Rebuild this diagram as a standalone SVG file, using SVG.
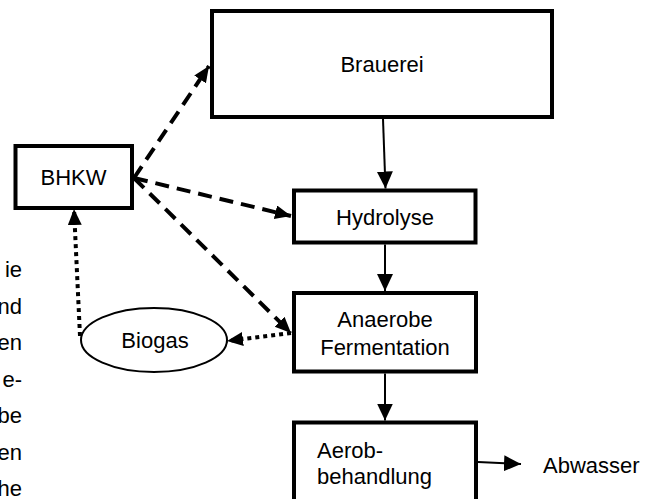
<svg xmlns="http://www.w3.org/2000/svg" width="658" height="499" viewBox="0 0 658 499">
<defs>
<style>
.box{fill:#fff;stroke:#000;stroke-width:4}
.t{font-family:"Liberation Sans",Arial,sans-serif;font-size:22px;fill:#000}
.c{text-anchor:middle}
.e{text-anchor:end}
.solid{stroke:#000;stroke-width:2;fill:none}
.dash{stroke:#000;stroke-width:4;stroke-dasharray:14 8;fill:none}
.dot{stroke:#000;stroke-width:4;stroke-dasharray:4 4;fill:none}
</style>
<marker id="ah" markerUnits="userSpaceOnUse" markerWidth="18" markerHeight="16" refX="17" refY="8" orient="auto" viewBox="0 0 18 16">
<path d="M0,0 L17,8 L0,16 z" fill="#000"/>
</marker>
<marker id="ahd" markerUnits="userSpaceOnUse" markerWidth="18" markerHeight="16" refX="16" refY="7" orient="auto" viewBox="0 0 18 16">
<path d="M0,0 L16,7 L0,14 z" fill="#000"/>
</marker>
</defs>
<rect width="658" height="499" fill="#fff"/>
<g id="sidetext" class="t e">
<text x="22" y="277">ie</text>
<text x="22" y="313.5">nd</text>
<text x="22" y="350">en</text>
<text x="22" y="386.5">e-</text>
<text x="22" y="423">be</text>
<text x="22" y="459.5">en</text>
<text x="22" y="496">he</text>
</g>
<g id="connectors">
<line class="solid" x1="383" y1="119" x2="385.5" y2="188.5" marker-end="url(#ah)"/>
<line class="solid" x1="385" y1="244.5" x2="385" y2="291" marker-end="url(#ah)"/>
<line class="solid" x1="385" y1="373.5" x2="385" y2="420.5" marker-end="url(#ah)"/>
<line class="solid" x1="478" y1="462" x2="521" y2="464" marker-end="url(#ah)"/>
<line class="dash" x1="134" y1="178" x2="209" y2="66" marker-end="url(#ahd)"/>
<line class="dash" x1="134" y1="178" x2="291" y2="216" marker-end="url(#ahd)"/>
<line class="dash" x1="134" y1="178" x2="291" y2="333" marker-end="url(#ahd)"/>
<line class="dot" x1="291" y1="333" x2="227" y2="341" marker-end="url(#ahd)"/>
<line class="dot" x1="80" y1="336" x2="74" y2="209" marker-end="url(#ahd)"/>
</g>
<g id="brauerei">
<rect class="box" x="212" y="11" width="340" height="106"/>
<text class="t c" x="382" y="72">Brauerei</text>
</g>
<g id="bhkw">
<rect class="box" x="15.5" y="146" width="116.5" height="62"/>
<text class="t c" x="73.5" y="185">BHKW</text>
</g>
<g id="hydrolyse">
<rect class="box" x="294" y="190.5" width="181.5" height="52"/>
<text class="t c" x="385" y="225">Hydrolyse</text>
</g>
<g id="anaerobe">
<rect class="box" x="294" y="293" width="182" height="78.5"/>
<text class="t c" x="385" y="327">Anaerobe</text>
<text class="t c" x="385" y="355">Fermentation</text>
</g>
<g id="aerob">
<rect class="box" x="294" y="422.5" width="182" height="90"/>
<text class="t" x="317" y="458">Aerob-</text>
<text class="t" x="317" y="484">behandlung</text>
</g>
<g id="biogas">
<ellipse cx="154" cy="340" rx="73" ry="32" fill="#fff" stroke="#000" stroke-width="2"/>
<text class="t c" x="155" y="348">Biogas</text>
</g>
<g id="abwasser">
<text class="t" x="543" y="473">Abwasser</text>
</g>
</svg>
